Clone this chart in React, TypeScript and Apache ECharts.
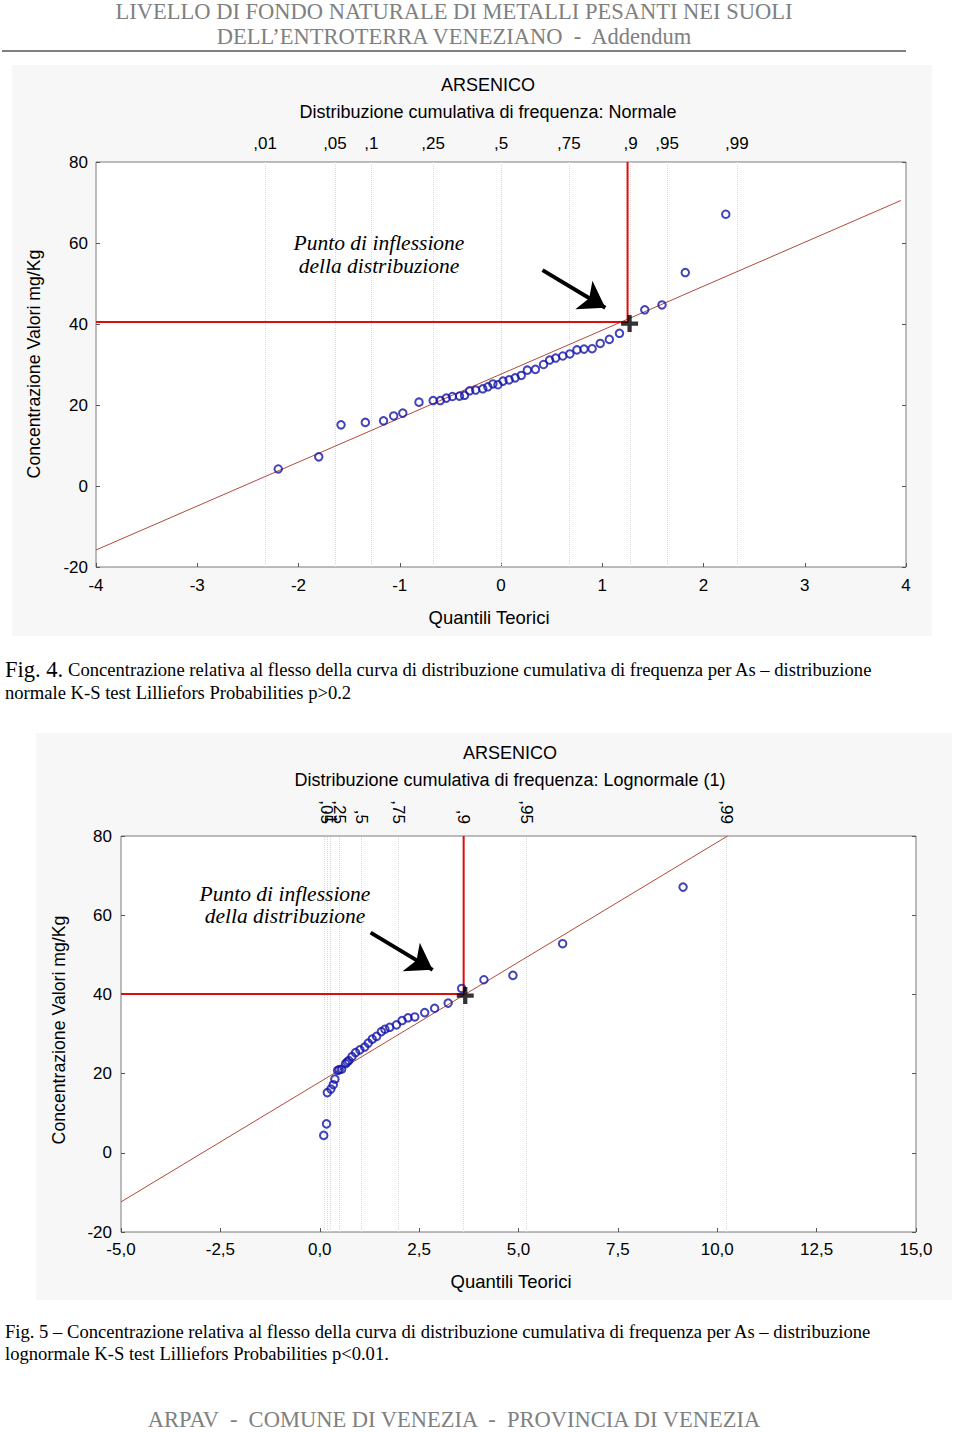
import React, { useEffect, useRef } from "react";
import * as echarts from "echarts";

// ---------- data ----------
const quantLabels = [",01", ",05", ",1", ",25", ",5", ",75", ",9", ",95", ",99"];
const normQuantPos = [-2.33, -1.64, -1.28, -0.67, 0, 0.67, 1.28, 1.64, 2.33];
const logQuantPos = [0.11, 0.18, 0.26, 0.5, 1.05, 1.97, 3.62, 5.2, 10.23];

const normX = [
  -2.2, -1.8, -1.58, -1.34, -1.16, -1.06, -0.97, -0.81, -0.67, -0.6, -0.54, -0.48,
  -0.41, -0.36, -0.31, -0.25, -0.18, -0.13, -0.08, -0.03, 0.02, 0.08, 0.14, 0.2,
  0.26, 0.34, 0.42, 0.48, 0.54, 0.61, 0.68, 0.75, 0.82, 0.9, 0.98, 1.07, 1.17,
  1.42, 1.59, 1.82, 2.22,
];
const normY = [
  4.2, 7.2, 15.1, 15.7, 16.1, 17.3, 18.0, 20.7, 21.1, 21.1, 21.7, 22.1, 22.2,
  22.4, 23.5, 23.7, 24.0, 24.5, 25.2, 25.0, 25.9, 26.2, 26.7, 27.3, 28.6, 28.8,
  30.0, 31.1, 31.6, 32.1, 32.6, 33.6, 33.8, 33.9, 35.2, 36.2, 37.7, 43.5, 44.7,
  52.7, 67.1,
];

const logX = [
  0.1, 0.17, 0.19, 0.28, 0.34, 0.38, 0.45, 0.49, 0.55, 0.65, 0.69, 0.73, 0.81,
  0.9, 1.01, 1.13, 1.22, 1.32, 1.43, 1.55, 1.64, 1.76, 1.93, 2.07, 2.22, 2.39,
  2.64, 2.89, 3.23, 3.57, 4.13, 4.86, 6.11, 9.14,
];
const logY = [
  4.4, 7.3, 15.2, 16.1, 17.2, 18.6, 20.8, 21.0, 21.1, 22.5, 22.9, 23.3, 24.3,
  25.3, 26.0, 26.7, 27.7, 28.7, 29.4, 30.6, 31.2, 31.7, 32.3, 33.4, 34.1, 34.3,
  35.4, 36.5, 37.8, 41.5, 43.7, 44.8, 52.8, 67.1,
];

const normFit = [[-4, -15.8], [3.95, 70.5]];
const logFit = [[-5, -12.4], [10.26, 80]];
const normInflex = [1.25, 40.5];
const logInflex = [3.62, 40.1];
const normArrow = [[0.41, 53.3], [1.03, 44.0]];
const logArrow = [[1.28, 55.6], [2.84, 46.2]];

const yTicks = { min: -20, max: 80, interval: 20 };

// ---------- styles ----------
const SANS = '"Liberation Sans", Arial, sans-serif';
const SERIF = '"Liberation Serif", "Times New Roman", serif';
const plusPath = "path://M6,0 H10 V6 H16 V10 H10 V16 H6 V10 H0 V6 H6 Z";

function labelFor(positions: number[], v: number) {
  let best = 0;
  for (let i = 1; i < positions.length; i++) {
    if (Math.abs(positions[i] - v) < Math.abs(positions[best] - v)) best = i;
  }
  return quantLabels[best];
}

function plotSeries(
  xi: number,
  yi: number,
  fit: number[][],
  quantPos: number[],
  xs: number[],
  ys: number[],
  inflex: number[],
  xmin: number,
  arrow: number[][]
) {
  return [
    {
      type: "line",
      xAxisIndex: xi,
      yAxisIndex: yi,
      data: fit,
      symbol: "none",
      lineStyle: { color: "#b24a3c", width: 1 },
      z: 3,
      silent: true,
      markLine: {
        silent: true,
        symbol: ["none", "none"],
        label: { show: false },
        lineStyle: { color: "#d9d9d9", type: "dotted", width: 1 },
        data: quantPos.map((v) => ({ xAxis: v })),
        z: 1,
      },
    },
    {
      type: "line",
      xAxisIndex: xi,
      yAxisIndex: yi,
      data: [
        [xmin, inflex[1]],
        [inflex[0], inflex[1]],
        [inflex[0], yTicks.max],
      ],
      symbol: "none",
      lineStyle: { color: "#e00c0c", width: 2 },
      z: 4,
      silent: true,
    },
    {
      type: "scatter",
      xAxisIndex: xi,
      yAxisIndex: yi,
      data: xs.map((x, i) => [x, ys[i]]),
      symbol: "circle",
      symbolSize: 7.5,
      itemStyle: { color: "rgba(255,255,255,0)", borderColor: "#1414a8", borderWidth: 2 },
      z: 5,
      silent: true,
    },
    {
      type: "scatter",
      xAxisIndex: xi,
      yAxisIndex: yi,
      data: [[inflex[0] + 0.02 * (xi === 0 ? 1 : 2), inflex[1] - 0.4]],
      symbol: plusPath,
      symbolSize: 17,
      itemStyle: { color: "#000" },
      z: 6,
      silent: true,
    },
    {
      type: "lines",
      coordinateSystem: "cartesian2d",
      xAxisIndex: xi,
      yAxisIndex: yi,
      data: [{ coords: arrow }],
      symbol: ["none", "arrow"],
      symbolSize: 25,
      lineStyle: { color: "#000", width: 4, opacity: 1, curveness: 0 },
      z: 6,
      silent: true,
    },
  ];
}

function text(x: number, y: number, t: string, font: string, opts: any = {}) {
  return {
    type: "text",
    x,
    y,
    silent: true,
    rotation: opts.rotation || 0,
    style: {
      text: t,
      font,
      fill: opts.fill || "#000",
      align: opts.align || "center",
      verticalAlign: "middle",
    },
    z: 10,
  };
}

export default function App() {
  const ref = useRef<HTMLDivElement>(null);

  useEffect(() => {
    if (!ref.current) return;
    const chart = echarts.init(ref.current, null, { renderer: "svg" });

    const axisLabelStyle = { color: "#000", fontSize: 17, fontFamily: SANS };
    const tick = { show: true, inside: true, length: 4, lineStyle: { color: "#555" } };
    const noLine = { show: false, onZero: false };

    const option: any = {
      animation: false,
      backgroundColor: "#fff",
      textStyle: { fontFamily: SANS },
      grid: [
        { left: 96, top: 162, width: 810, height: 405, show: true, borderColor: "#7a7a7a", borderWidth: 1, backgroundColor: "#fff" },
        { left: 121, top: 836, width: 795, height: 396, show: true, borderColor: "#7a7a7a", borderWidth: 1, backgroundColor: "#fff" },
      ],
      xAxis: [
        {
          gridIndex: 0, type: "value", min: -4, max: 4, interval: 1, position: "bottom",
          axisLine: noLine, splitLine: { show: false }, axisTick: tick,
          axisLabel: { ...axisLabelStyle, margin: 10 },
        },
        {
          gridIndex: 0, type: "value", min: -4, max: 4, position: "top",
          axisLine: noLine, splitLine: { show: false }, axisTick: { show: false },
          axisLabel: {
            ...axisLabelStyle, margin: 10,
            customValues: normQuantPos,
            formatter: (v: number) => labelFor(normQuantPos, v),
          },
        },
        {
          gridIndex: 1, type: "value", min: -5, max: 15, interval: 2.5, position: "bottom",
          axisLine: noLine, splitLine: { show: false }, axisTick: tick,
          axisLabel: { ...axisLabelStyle, margin: 9, formatter: (v: number) => v.toFixed(1).replace(".", ",") },
        },
        {
          gridIndex: 1, type: "value", min: -5, max: 15, position: "top",
          axisLine: noLine, splitLine: { show: false }, axisTick: { show: false },
          axisLabel: {
            ...axisLabelStyle, margin: 12, rotate: 90,
            customValues: logQuantPos,
            formatter: (v: number) => labelFor(logQuantPos, v),
          },
        },
      ],
      yAxis: [
        {
          gridIndex: 0, type: "value", ...yTicks, position: "left",
          axisLine: noLine, splitLine: { show: false }, axisTick: tick,
          axisLabel: { ...axisLabelStyle, margin: 8 },
        },
        {
          gridIndex: 0, type: "value", ...yTicks, position: "right",
          axisLine: noLine, splitLine: { show: false }, axisTick: tick,
          axisLabel: { show: false },
        },
        {
          gridIndex: 1, type: "value", ...yTicks, position: "left",
          axisLine: noLine, splitLine: { show: false }, axisTick: tick,
          axisLabel: { ...axisLabelStyle, margin: 9 },
        },
        {
          gridIndex: 1, type: "value", ...yTicks, position: "right",
          axisLine: noLine, splitLine: { show: false }, axisTick: tick,
          axisLabel: { show: false },
        },
      ],
      series: [
        ...plotSeries(0, 0, normFit, normQuantPos, normX, normY, normInflex, -4, normArrow),
        ...plotSeries(2, 2, logFit, logQuantPos, logX, logY, logInflex, -5, logArrow),
      ],
      graphic: [
        { type: "rect", shape: { x: 12, y: 65, width: 920, height: 571 }, style: { fill: "#f7f7f7" }, z: -10, silent: true },
        { type: "rect", shape: { x: 36, y: 733, width: 916, height: 567 }, style: { fill: "#f7f7f7" }, z: -10, silent: true },
        { type: "line", shape: { x1: 2, y1: 51, x2: 906, y2: 51 }, style: { stroke: "#808080", lineWidth: 2 }, silent: true },
        text(454, 11, "LIVELLO DI FONDO NATURALE DI METALLI PESANTI NEI SUOLI", `22.5px ${SERIF}`, { fill: "#808080" }),
        text(454, 36, "DELL\u2019ENTROTERRA VENEZIANO  -  Addendum", `22.5px ${SERIF}`, { fill: "#808080" }),
        // chart 1 texts
        text(488, 85, "ARSENICO", `18px ${SANS}`),
        text(488, 112, "Distribuzione cumulativa di frequenza: Normale", `18px ${SANS}`),
        text(489, 617, "Quantili Teorici", `18.5px ${SANS}`),
        text(34, 364, "Concentrazione Valori mg/Kg", `17.7px ${SANS}`, { rotation: Math.PI / 2 }),
        text(379, 243, "Punto di inflessione", `italic 21.5px ${SERIF}`),
        text(379, 266, "della distribuzione", `italic 21.5px ${SERIF}`),
        text(5, 669, "Fig. 4.", `22.5px ${SERIF}`, { align: "left" }),
        text(68, 669, "Concentrazione relativa al flesso della curva di distribuzione cumulativa di frequenza per As \u2013 distribuzione", `18.6px ${SERIF}`, { align: "left" }),
        text(5, 692, "normale K-S test Lilliefors Probabilities p>0.2", `18.6px ${SERIF}`, { align: "left" }),
        // chart 2 texts
        text(510, 753, "ARSENICO", `18px ${SANS}`),
        text(510, 780, "Distribuzione cumulativa di frequenza: Lognormale (1)", `18px ${SANS}`),
        text(511, 1281, "Quantili Teorici", `18.5px ${SANS}`),
        text(59, 1030, "Concentrazione Valori mg/Kg", `17.7px ${SANS}`, { rotation: Math.PI / 2 }),
        text(285, 894, "Punto di inflessione", `italic 21.5px ${SERIF}`),
        text(285, 916, "della distribuzione", `italic 21.5px ${SERIF}`),
        text(5, 1331, "Fig. 5 \u2013 Concentrazione relativa al flesso della curva di distribuzione cumulativa di frequenza per As \u2013 distribuzione", `18.6px ${SERIF}`, { align: "left" }),
        text(5, 1353, "lognormale K-S test Lilliefors Probabilities p<0.01.", `18.6px ${SERIF}`, { align: "left" }),
        // footer
        text(454, 1419, "ARPAV  -  COMUNE DI VENEZIA  -  PROVINCIA DI VENEZIA", `22.5px ${SERIF}`, { fill: "#808080" }),
      ],
    };

    chart.setOption(option);
    return () => chart.dispose();
  }, []);

  return (
    <div
      ref={ref}
      style={{ position: "absolute", left: 0, top: 0, width: 960, height: 1432 }}
    />
  );
}
